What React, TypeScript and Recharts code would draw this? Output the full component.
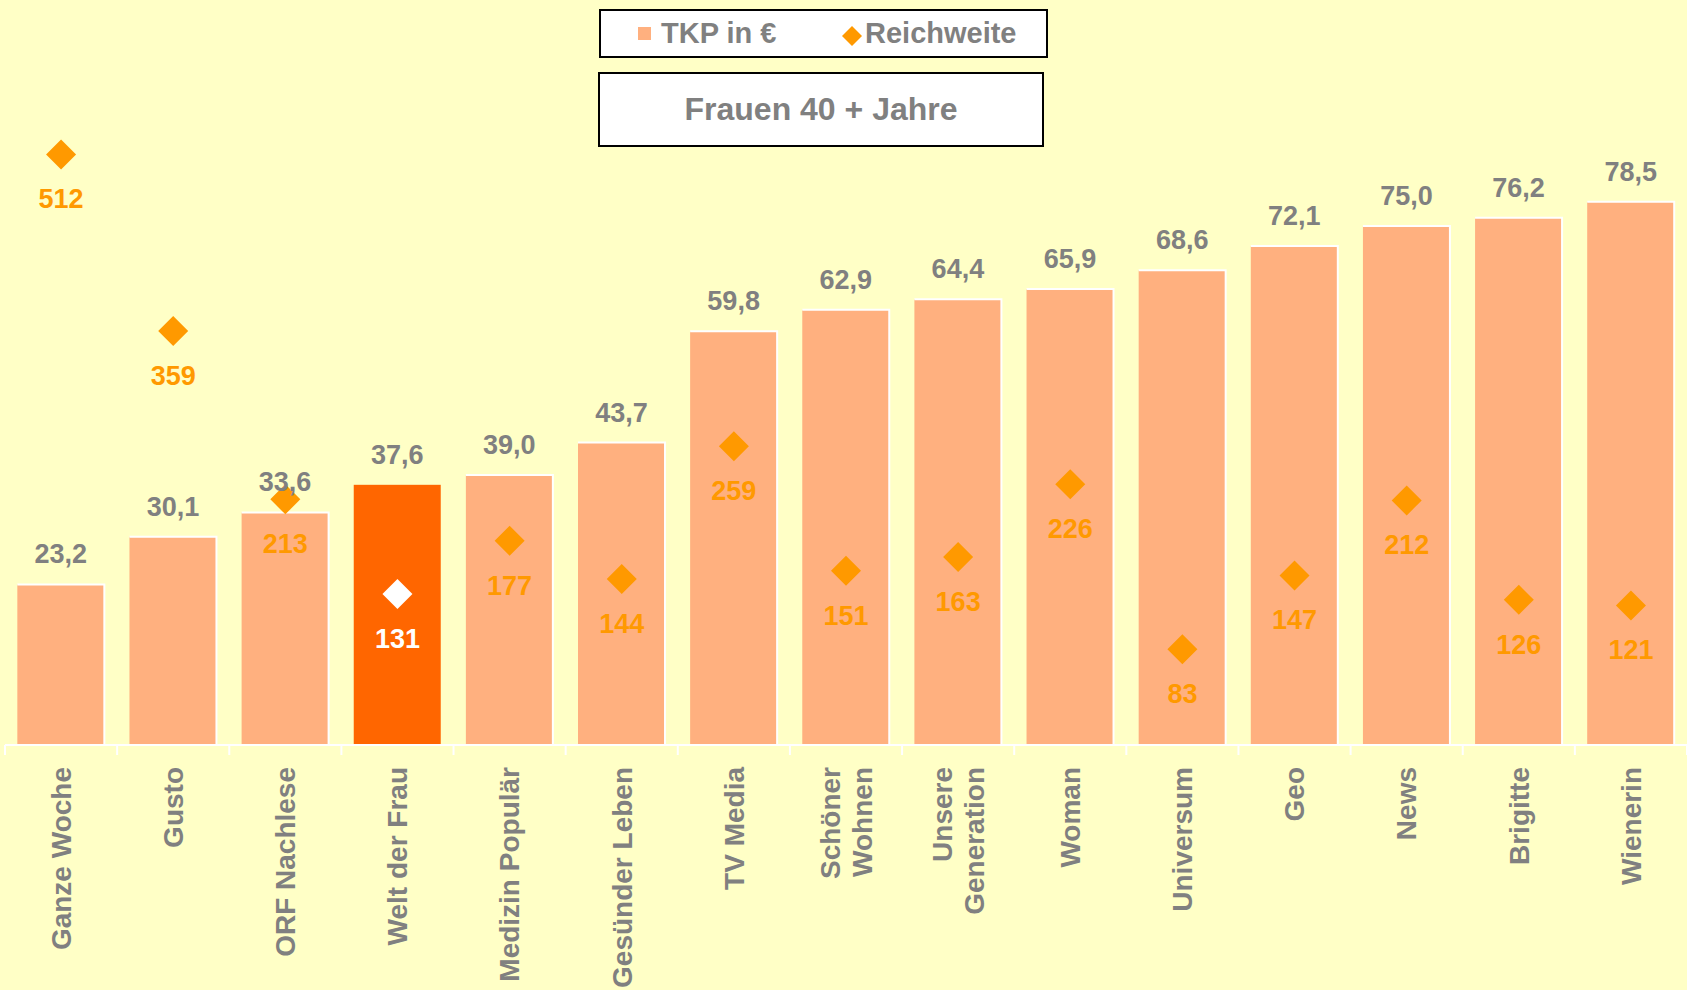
import React from 'react';
import {
  ComposedChart,
  Bar,
  Line,
  XAxis,
  YAxis,
  Legend,
  LabelList
} from 'recharts';

const magazines = [
  'Ganze Woche',
  'Gusto',
  'ORF Nachlese',
  'Welt der Frau',
  'Medizin Populär',
  'Gesünder Leben',
  'TV Media',
  'Schöner\nWohnen',
  'Unsere\nGeneration',
  'Woman',
  'Universum',
  'Geo',
  'News',
  'Brigitte',
  'Wienerin'
];
const tkp = [23.2, 30.1, 33.6, 37.6, 39.0, 43.7, 59.8, 62.9, 64.4, 65.9, 68.6, 72.1, 75.0, 76.2, 78.5];
const reichweite = [512, 359, 213, 131, 177, 144, 259, 151, 163, 226, 83, 147, 212, 126, 121];
const highlight = 'Welt der Frau';
const seriesNames = ['TKP in €', 'Reichweite'];
const title = 'Frauen 40 + Jahre';

const W = 1687;
const H = 990;
const FONT = '"Liberation Sans", Arial, sans-serif';
const GRAY = '#808080';
const ORANGE = '#FF9900';
const PEACH = '#FFB07F';
const HOT = '#FF6600';
const BG = '#FFFFC6';

const chartData = magazines.map((name, i) => ({
  name,
  tkp: tkp[i],
  reichweite: reichweite[i]
}));

const isHot = (name: string) => name === highlight;

const BarShape = (props: any) => {
  const { x, y, width, height, payload } = props;
  const hot = isHot(payload.name);
  return (
    <g>
      <rect x={x} y={y} width={width} height={height} fill={hot ? HOT : PEACH} />
      {!hot && (
        <polyline
          points={`${x},${y} ${x + width},${y} ${x + width},${y + height}`}
          fill="none"
          stroke="#fff"
          strokeWidth={2}
        />
      )}
    </g>
  );
};

const Diamond = (props: any) => {
  const { cx, cy, payload } = props;
  if (cx == null || cy == null) return null;
  const r = 15;
  return (
    <polygon
      points={`${cx},${cy - r} ${cx + r},${cy} ${cx},${cy + r} ${cx - r},${cy}`}
      fill={isHot(payload.name) ? '#fff' : ORANGE}
    />
  );
};

const BarValue = (props: any) => {
  const { x, y, width, value } = props;
  return (
    <text x={x + width / 2} y={y - 30} textAnchor="middle" dominantBaseline="central"
      fill={GRAY} fontSize={27} fontWeight="bold" fontFamily={FONT}>
      {value.toFixed(1).replace('.', ',')}
    </text>
  );
};

const ReachValue = (props: any) => {
  const { x, y, value, index } = props;
  return (
    <text x={x} y={y + 45} textAnchor="middle" dominantBaseline="central"
      fill={isHot(magazines[index]) ? '#fff' : ORANGE} fontSize={27} fontWeight="bold" fontFamily={FONT}>
      {value}
    </text>
  );
};

const BAND = (W - 5) / magazines.length;

const CategoryTick = (props: any) => {
  const { x, y, payload, index } = props;
  const lines = String(payload.value).split('\n');
  const top = y + 14;
  return (
    <g>
      <line x1={x - BAND / 2} y1={y - 8} x2={x - BAND / 2} y2={y + 2} stroke="#fff" strokeWidth={2} />
      {index === magazines.length - 1 && (
        <line x1={x + BAND / 2} y1={y - 8} x2={x + BAND / 2} y2={y + 2} stroke="#fff" strokeWidth={2} />
      )}
      <text
        transform={`translate(${x},${top}) rotate(-90)`}
        textAnchor="end"
        fill={GRAY}
        fontSize={28}
        fontWeight="bold"
        fontFamily={FONT}
      >
        {lines.map((l, i) => (
          <tspan key={i} x={0} y={0} dy={`${(i - (lines.length - 1) / 2) * 1.15 + 0.35}em`}>
            {l}
          </tspan>
        ))}
      </text>
    </g>
  );
};

const LegendBox = () => (
  <div style={{
    boxSizing: 'border-box', width: 449, height: 49, border: '2px solid #000', background: '#fff',
    fontFamily: FONT, fontWeight: 'bold', fontSize: 29, color: GRAY, position: 'relative'
  }}>
    <span style={{ position: 'absolute', left: 37, top: 16, width: 13, height: 13, background: PEACH }} />
    <span style={{ position: 'absolute', left: 60, top: 5, lineHeight: '34px' }}>{seriesNames[0]}</span>
    <svg style={{ position: 'absolute', left: 240, top: 14 }} width={22} height={22}>
      <polygon points="11,1 21,11 11,21 1,11" fill={ORANGE} />
    </svg>
    <span style={{ position: 'absolute', left: 264, top: 5, lineHeight: '34px' }}>{seriesNames[1]}</span>
  </div>
);

export default function App() {
  return (
    <div style={{ position: 'fixed', left: 0, top: 0, width: W, height: H, background: BG, overflow: 'hidden' }}>
      <ComposedChart
        width={W}
        height={H}
        data={chartData}
        margin={{ top: 53, right: 0, bottom: 5, left: 5 }}
        barCategoryGap="11%"
      >
        <XAxis
          dataKey="name"
          interval={0}
          height={240}
          axisLine={{ stroke: '#fff', strokeWidth: 2 }}
          tickLine={false}
          tick={<CategoryTick />}
        />
        <YAxis yAxisId="tkp" hide domain={[0, 100]} />
        <YAxis yAxisId="rw" hide orientation="right" domain={[0, 600]} />
        <Legend
          layout="vertical"
          verticalAlign="middle"
          align="center"
          wrapperStyle={{ position: 'absolute', top: 9, left: 599, width: 449, height: 49 }}
          content={<LegendBox />}
        />
        <Bar
          yAxisId="tkp"
          dataKey="tkp"
          name={seriesNames[0]}
          shape={<BarShape />}
          isAnimationActive={false}
        >
          <LabelList dataKey="tkp" content={<BarValue />} />
        </Bar>
        <Line
          yAxisId="rw"
          dataKey="reichweite"
          name={seriesNames[1]}
          stroke="none"
          dot={<Diamond />}
          activeDot={false}
          isAnimationActive={false}
        >
          <LabelList dataKey="reichweite" content={<ReachValue />} />
        </Line>
      </ComposedChart>
      <div style={{
        position: 'absolute', left: 598, top: 72, width: 446, height: 75, boxSizing: 'border-box',
        border: '2px solid #000', background: '#fff', display: 'flex', alignItems: 'center',
        justifyContent: 'center', fontFamily: FONT, fontWeight: 'bold', fontSize: 32, color: GRAY
      }}>
        {title}
      </div>
    </div>
  );
}
